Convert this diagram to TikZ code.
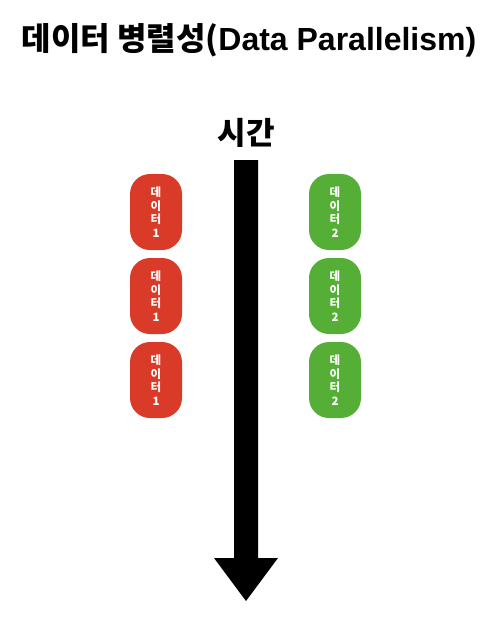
\documentclass[tikz,border=0pt]{standalone}
\usepackage{fontspec}
\setmainfont{Noto Sans CJK KR}
\newfontfamily\latinb{Liberation Sans}[BoldFont=* Bold]
\definecolor{boxred}{HTML}{D93B28}
\definecolor{boxgreen}{HTML}{55AE36}
\begin{document}
\begin{tikzpicture}[x=1pt,y=-1pt,
  databox/.style={rounded corners=20pt, minimum width=52pt, minimum height=76pt, inner sep=0pt,
    text=white, align=center, font=\bfseries\fontsize{11.5}{13.5}\selectfont},
  redbox/.style={databox, fill=boxred},
  greenbox/.style={databox, fill=boxgreen}]
\useasboundingbox (0,0) rectangle (497,621);
\node[font=\bfseries\fontsize{32}{34}\selectfont] (title) at (249,40) {데이터 병렬성(\latinb\bfseries Data Parallelism)};
\node[font=\bfseries\fontsize{31}{34}\selectfont] (time) at (246,133) {시간};
\fill[black] (234,160) -- (258,160) -- (258,558) -- (278,558) -- (246,601) -- (214,558) -- (234,558) -- cycle;
\node[redbox] (r1) at (156,212) {데\\이\\터\\1};
\node[redbox] (r2) at (156,296) {데\\이\\터\\1};
\node[redbox] (r3) at (156,380) {데\\이\\터\\1};
\node[greenbox] (g1) at (335,212) {데\\이\\터\\2};
\node[greenbox] (g2) at (335,296) {데\\이\\터\\2};
\node[greenbox] (g3) at (335,380) {데\\이\\터\\2};
\end{tikzpicture}
\end{document}
